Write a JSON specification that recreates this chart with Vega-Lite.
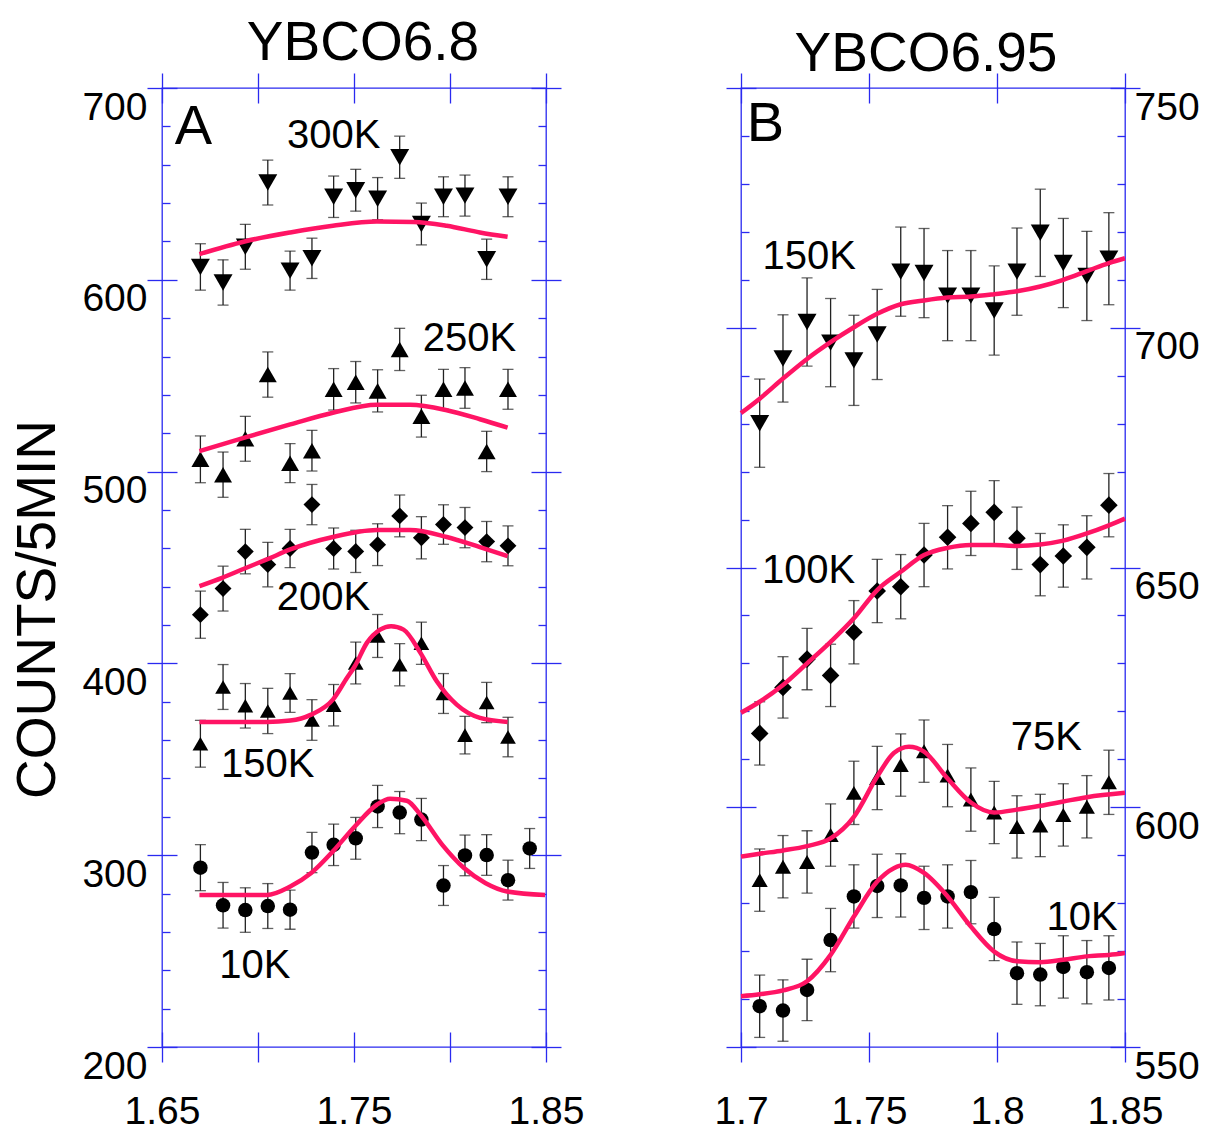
{
  "$schema": "https://vega.github.io/schema/vega-lite/v6.json",
  "padding": {"left": 10, "top": 15, "right": 0, "bottom": 0},
  "spacing": 128,
  "config": {
    "view": {"stroke": "#2a2af0", "strokeWidth": 1.3},
    "axis": {"grid": false, "domain": false, "tickColor": "#2a2af0", "tickWidth": 1.3, "labelFont": "Liberation Sans", "labelFontSize": 39, "labelColor": "black", "labelFlush": false, "labelOverlap": false},
    "text": {"font": "Liberation Sans"}
  },
  "resolve": {"scale": {"shape": "independent", "size": "independent", "x": "independent", "y": "independent"}},
  "datasets": {
    "ptsA": [
      {"s":"300K","x":1.6700,"y":606.7,"e":12.1},{"s":"300K","x":1.6818,"y":598.6,"e":11.8},{"s":"300K","x":1.6934,"y":617.2,"e":11.7},{"s":"300K","x":1.7051,"y":650.7,"e":11.7},{"s":"300K","x":1.7167,"y":604.8,"e":10.2},{"s":"300K","x":1.7281,"y":611.2,"e":10.5},{"s":"300K","x":1.7394,"y":643.3,"e":10.8},{"s":"300K","x":1.7509,"y":646.7,"e":10.9},{"s":"300K","x":1.7623,"y":642.3,"e":11.0},{"s":"300K","x":1.7738,"y":663.9,"e":11.0},{"s":"300K","x":1.7851,"y":629.1,"e":10.9},{"s":"300K","x":1.7966,"y":643.3,"e":10.4},{"s":"300K","x":1.8078,"y":643.9,"e":10.7},{"s":"300K","x":1.8191,"y":610.7,"e":10.5},{"s":"300K","x":1.8302,"y":643.3,"e":10.4},
      {"s":"250K","x":1.6700,"y":506.4,"e":12.2},{"s":"250K","x":1.6818,"y":498.4,"e":11.8},{"s":"250K","x":1.6934,"y":517.1,"e":11.7},{"s":"250K","x":1.7051,"y":550.6,"e":11.8},{"s":"250K","x":1.7167,"y":504.4,"e":10.2},{"s":"250K","x":1.7281,"y":510.9,"e":10.6},{"s":"250K","x":1.7394,"y":542.9,"e":10.8},{"s":"250K","x":1.7509,"y":546.6,"e":10.8},{"s":"250K","x":1.7623,"y":542.1,"e":11.0},{"s":"250K","x":1.7738,"y":563.7,"e":11.0},{"s":"250K","x":1.7851,"y":528.9,"e":10.9},{"s":"250K","x":1.7966,"y":542.9,"e":10.4},{"s":"250K","x":1.8078,"y":543.6,"e":10.6},{"s":"250K","x":1.8191,"y":510.5,"e":10.5},{"s":"250K","x":1.8302,"y":542.9,"e":10.4},
      {"s":"200K","x":1.6700,"y":425.4,"e":12.3},{"s":"200K","x":1.6818,"y":439.0,"e":11.7},{"s":"200K","x":1.6934,"y":458.3,"e":11.6},{"s":"200K","x":1.7051,"y":451.5,"e":11.6},{"s":"200K","x":1.7167,"y":459.9,"e":10.0},{"s":"200K","x":1.7281,"y":482.8,"e":10.5},{"s":"200K","x":1.7394,"y":459.9,"e":10.7},{"s":"200K","x":1.7509,"y":458.4,"e":11.0},{"s":"200K","x":1.7623,"y":461.9,"e":10.9},{"s":"200K","x":1.7738,"y":476.9,"e":10.9},{"s":"200K","x":1.7851,"y":465.5,"e":11.0},{"s":"200K","x":1.7966,"y":472.4,"e":10.3},{"s":"200K","x":1.8078,"y":470.8,"e":10.5},{"s":"200K","x":1.8191,"y":463.5,"e":10.5},{"s":"200K","x":1.8302,"y":461.3,"e":10.4},
      {"s":"150K","x":1.6700,"y":358.1,"e":12.2},{"s":"150K","x":1.6818,"y":387.7,"e":11.7},{"s":"150K","x":1.6934,"y":377.9,"e":11.6},{"s":"150K","x":1.7051,"y":375.2,"e":11.8},{"s":"150K","x":1.7167,"y":384.6,"e":10.1},{"s":"150K","x":1.7281,"y":370.5,"e":10.6},{"s":"150K","x":1.7394,"y":378.2,"e":10.8},{"s":"150K","x":1.7509,"y":400.2,"e":10.9},{"s":"150K","x":1.7623,"y":414.3,"e":11.2},{"s":"150K","x":1.7738,"y":399.3,"e":11.0},{"s":"150K","x":1.7851,"y":410.5,"e":11.0},{"s":"150K","x":1.7966,"y":384.3,"e":10.4},{"s":"150K","x":1.8078,"y":362.6,"e":9.8},{"s":"150K","x":1.8191,"y":379.6,"e":10.5},{"s":"150K","x":1.8302,"y":361.6,"e":10.3},
      {"s":"10K","x":1.6700,"y":293.5,"e":12.0},{"s":"10K","x":1.6818,"y":273.9,"e":11.9},{"s":"10K","x":1.6934,"y":271.4,"e":11.6},{"s":"10K","x":1.7051,"y":273.5,"e":11.7},{"s":"10K","x":1.7167,"y":271.6,"e":10.2},{"s":"10K","x":1.7281,"y":301.4,"e":10.5},{"s":"10K","x":1.7394,"y":305.4,"e":10.8},{"s":"10K","x":1.7509,"y":308.8,"e":10.9},{"s":"10K","x":1.7623,"y":325.4,"e":11.0},{"s":"10K","x":1.7738,"y":322.2,"e":11.0},{"s":"10K","x":1.7851,"y":318.6,"e":11.0},{"s":"10K","x":1.7966,"y":284.2,"e":10.4},{"s":"10K","x":1.8078,"y":299.9,"e":10.6},{"s":"10K","x":1.8191,"y":300.1,"e":10.6},{"s":"10K","x":1.8302,"y":287.0,"e":10.4},{"s":"10K","x":1.8415,"y":303.5,"e":10.4}
    ],
    "fitA": [
      {"s":"300K","x":1.6695,"y":613.4},{"s":"300K","x":1.6930,"y":620.0},{"s":"300K","x":1.7168,"y":624.7},{"s":"300K","x":1.7390,"y":628.2},{"s":"300K","x":1.7619,"y":630.4},{"s":"300K","x":1.7810,"y":630.2},{"s":"300K","x":1.7983,"y":628.2},{"s":"300K","x":1.8156,"y":624.7},{"s":"300K","x":1.8300,"y":622.4},
      {"s":"250K","x":1.6695,"y":510.7},{"s":"250K","x":1.6930,"y":517.7},{"s":"250K","x":1.7168,"y":524.6},{"s":"250K","x":1.7390,"y":530.7},{"s":"250K","x":1.7619,"y":534.8},{"s":"250K","x":1.7792,"y":534.8},{"s":"250K","x":1.7983,"y":532.0},{"s":"250K","x":1.8156,"y":527.3},{"s":"250K","x":1.8300,"y":522.9},
      {"s":"200K","x":1.6695,"y":440.3},{"s":"200K","x":1.6813,"y":444.6},{"s":"200K","x":1.6930,"y":449.5},{"s":"200K","x":1.7046,"y":454.2},{"s":"200K","x":1.7168,"y":459.4},{"s":"200K","x":1.7390,"y":465.9},{"s":"200K","x":1.7619,"y":469.5},{"s":"200K","x":1.7792,"y":469.5},{"s":"200K","x":1.7983,"y":465.9},{"s":"200K","x":1.8156,"y":460.6},{"s":"200K","x":1.8300,"y":455.9},
      {"s":"150K","x":1.6695,"y":369.5},{"s":"150K","x":1.7046,"y":369.5},{"s":"150K","x":1.7168,"y":370.2},{"s":"150K","x":1.7277,"y":373.3},{"s":"150K","x":1.7390,"y":381.1},{"s":"150K","x":1.7463,"y":392.4},{"s":"150K","x":1.7504,"y":398.5},{"s":"150K","x":1.7567,"y":410.7},{"s":"150K","x":1.7636,"y":417.6},{"s":"150K","x":1.7693,"y":419.4},{"s":"150K","x":1.7758,"y":417.6},{"s":"150K","x":1.7846,"y":405.5},{"s":"150K","x":1.7931,"y":390.7},{"s":"150K","x":1.8035,"y":378.5},{"s":"150K","x":1.8156,"y":371.6},{"s":"150K","x":1.8300,"y":369.5},
      {"s":"10K","x":1.6695,"y":279.3},{"s":"10K","x":1.7046,"y":279.3},{"s":"10K","x":1.7168,"y":283.7},{"s":"10K","x":1.7277,"y":290.7},{"s":"10K","x":1.7390,"y":302.0},{"s":"10K","x":1.7504,"y":315.0},{"s":"10K","x":1.7619,"y":326.3},{"s":"10K","x":1.7688,"y":329.4},{"s":"10K","x":1.7775,"y":328.4},{"s":"10K","x":1.7846,"y":321.1},{"s":"10K","x":1.7960,"y":305.4},{"s":"10K","x":1.8073,"y":293.3},{"s":"10K","x":1.8186,"y":285.4},{"s":"10K","x":1.8297,"y":281.1},{"s":"10K","x":1.8495,"y":279.3}
    ],
    "labA": [
      {"t":"300K","x":1.7394,"y":674.8},{"t":"250K","x":1.8101,"y":569.0},{"t":"200K","x":1.7341,"y":434.2},{"t":"150K","x":1.7051,"y":346.8},{"t":"10K","x":1.6984,"y":242.1}
    ],
    "letA": [{"t":"A","x":1.6664,"y":679.5}],
    "ptsB": [
      {"s":"150K","x":1.7073,"y":680.1,"e":9.2},{"s":"150K","x":1.7164,"y":693.6,"e":9.1},{"s":"150K","x":1.7258,"y":701.2,"e":9.2},{"s":"150K","x":1.7350,"y":696.9,"e":9.2},{"s":"150K","x":1.7441,"y":693.2,"e":9.4},{"s":"150K","x":1.7532,"y":698.6,"e":9.4},{"s":"150K","x":1.7624,"y":711.7,"e":9.3},{"s":"150K","x":1.7715,"y":711.4,"e":9.3},{"s":"150K","x":1.7807,"y":706.7,"e":9.4},{"s":"150K","x":1.7898,"y":706.7,"e":9.4},{"s":"150K","x":1.7989,"y":703.6,"e":9.3},{"s":"150K","x":1.8078,"y":711.7,"e":9.1},{"s":"150K","x":1.8169,"y":719.8,"e":9.1},{"s":"150K","x":1.8259,"y":713.5,"e":9.3},{"s":"150K","x":1.8351,"y":710.8,"e":9.3},{"s":"150K","x":1.8437,"y":714.4,"e":9.6},
      {"s":"100K","x":1.7073,"y":615.4,"e":6.6},{"s":"100K","x":1.7164,"y":625.0,"e":6.4},{"s":"100K","x":1.7258,"y":630.9,"e":6.4},{"s":"100K","x":1.7350,"y":627.5,"e":6.5},{"s":"100K","x":1.7441,"y":636.5,"e":6.6},{"s":"100K","x":1.7532,"y":645.1,"e":6.6},{"s":"100K","x":1.7624,"y":646.0,"e":6.7},{"s":"100K","x":1.7715,"y":652.6,"e":6.6},{"s":"100K","x":1.7807,"y":656.3,"e":6.6},{"s":"100K","x":1.7898,"y":659.2,"e":6.7},{"s":"100K","x":1.7989,"y":661.5,"e":6.6},{"s":"100K","x":1.8078,"y":656.1,"e":6.5},{"s":"100K","x":1.8169,"y":650.6,"e":6.5},{"s":"100K","x":1.8259,"y":652.4,"e":6.5},{"s":"100K","x":1.8351,"y":654.2,"e":6.6},{"s":"100K","x":1.8437,"y":663.0,"e":6.6},
      {"s":"75K","x":1.7073,"y":584.8,"e":6.5},{"s":"75K","x":1.7164,"y":587.6,"e":6.5},{"s":"75K","x":1.7258,"y":588.6,"e":6.5},{"s":"75K","x":1.7350,"y":594.2,"e":6.5},{"s":"75K","x":1.7441,"y":603.0,"e":6.6},{"s":"75K","x":1.7532,"y":606.1,"e":6.6},{"s":"75K","x":1.7624,"y":608.8,"e":6.5},{"s":"75K","x":1.7715,"y":611.7,"e":6.5},{"s":"75K","x":1.7807,"y":606.6,"e":6.5},{"s":"75K","x":1.7898,"y":601.6,"e":6.6},{"s":"75K","x":1.7989,"y":598.9,"e":6.5},{"s":"75K","x":1.8078,"y":595.9,"e":6.5},{"s":"75K","x":1.8169,"y":596.2,"e":6.5},{"s":"75K","x":1.8259,"y":598.4,"e":6.5},{"s":"75K","x":1.8351,"y":600.1,"e":6.5},{"s":"75K","x":1.8437,"y":605.2,"e":6.7},
      {"s":"10K","x":1.7073,"y":558.5,"e":6.5},{"s":"10K","x":1.7164,"y":557.6,"e":6.4},{"s":"10K","x":1.7258,"y":561.9,"e":6.4},{"s":"10K","x":1.7350,"y":572.3,"e":6.6},{"s":"10K","x":1.7441,"y":581.4,"e":6.6},{"s":"10K","x":1.7532,"y":583.6,"e":6.6},{"s":"10K","x":1.7624,"y":583.7,"e":6.6},{"s":"10K","x":1.7715,"y":581.1,"e":6.6},{"s":"10K","x":1.7807,"y":581.4,"e":6.6},{"s":"10K","x":1.7898,"y":582.3,"e":6.6},{"s":"10K","x":1.7989,"y":574.6,"e":6.6},{"s":"10K","x":1.8078,"y":565.4,"e":6.5},{"s":"10K","x":1.8169,"y":565.1,"e":6.5},{"s":"10K","x":1.8259,"y":566.7,"e":6.5},{"s":"10K","x":1.8351,"y":565.6,"e":6.6},{"s":"10K","x":1.8437,"y":566.5,"e":6.7}
    ],
    "fitB": [
      {"s":"150K","x":1.7000,"y":682.2},{"s":"150K","x":1.7073,"y":685.2},{"s":"150K","x":1.7164,"y":689.4},{"s":"150K","x":1.7258,"y":693.5},{"s":"150K","x":1.7350,"y":697.0},{"s":"150K","x":1.7441,"y":700.1},{"s":"150K","x":1.7532,"y":702.9},{"s":"150K","x":1.7624,"y":704.9},{"s":"150K","x":1.7715,"y":705.7},{"s":"150K","x":1.7807,"y":706.3},{"s":"150K","x":1.7898,"y":706.5},{"s":"150K","x":1.7989,"y":707.0},{"s":"150K","x":1.8078,"y":707.6},{"s":"150K","x":1.8169,"y":708.6},{"s":"150K","x":1.8259,"y":710.0},{"s":"150K","x":1.8351,"y":711.8},{"s":"150K","x":1.8437,"y":713.5},{"s":"150K","x":1.8500,"y":714.5},
      {"s":"100K","x":1.7000,"y":619.7},{"s":"100K","x":1.7073,"y":622.0},{"s":"100K","x":1.7164,"y":625.5},{"s":"100K","x":1.7258,"y":630.0},{"s":"100K","x":1.7350,"y":634.5},{"s":"100K","x":1.7441,"y":639.4},{"s":"100K","x":1.7532,"y":645.3},{"s":"100K","x":1.7624,"y":649.1},{"s":"100K","x":1.7715,"y":652.6},{"s":"100K","x":1.7807,"y":654.1},{"s":"100K","x":1.7898,"y":654.7},{"s":"100K","x":1.7989,"y":654.7},{"s":"100K","x":1.8078,"y":654.5},{"s":"100K","x":1.8169,"y":654.8},{"s":"100K","x":1.8259,"y":655.6},{"s":"100K","x":1.8351,"y":657.1},{"s":"100K","x":1.8437,"y":658.8},{"s":"100K","x":1.8500,"y":660.2},
      {"s":"75K","x":1.7000,"y":589.7},{"s":"75K","x":1.7073,"y":590.3},{"s":"75K","x":1.7164,"y":591.0},{"s":"75K","x":1.7258,"y":591.9},{"s":"75K","x":1.7350,"y":593.5},{"s":"75K","x":1.7441,"y":598.0},{"s":"75K","x":1.7532,"y":606.4},{"s":"75K","x":1.7597,"y":611.3},{"s":"75K","x":1.7656,"y":612.6},{"s":"75K","x":1.7715,"y":611.6},{"s":"75K","x":1.7807,"y":606.0},{"s":"75K","x":1.7898,"y":601.0},{"s":"75K","x":1.7989,"y":598.9},{"s":"75K","x":1.8078,"y":599.5},{"s":"75K","x":1.8169,"y":600.3},{"s":"75K","x":1.8259,"y":601.2},{"s":"75K","x":1.8351,"y":602.1},{"s":"75K","x":1.8500,"y":603.0},
      {"s":"10K","x":1.7000,"y":560.6},{"s":"10K","x":1.7073,"y":561.0},{"s":"10K","x":1.7164,"y":561.8},{"s":"10K","x":1.7258,"y":563.7},{"s":"10K","x":1.7350,"y":569.2},{"s":"10K","x":1.7441,"y":577.2},{"s":"10K","x":1.7532,"y":584.5},{"s":"10K","x":1.7597,"y":587.3},{"s":"10K","x":1.7643,"y":588.0},{"s":"10K","x":1.7715,"y":586.3},{"s":"10K","x":1.7807,"y":581.4},{"s":"10K","x":1.7898,"y":575.1},{"s":"10K","x":1.7989,"y":569.9},{"s":"10K","x":1.8078,"y":567.9},{"s":"10K","x":1.8169,"y":567.7},{"s":"10K","x":1.8259,"y":568.2},{"s":"10K","x":1.8351,"y":568.9},{"s":"10K","x":1.8437,"y":569.2},{"s":"10K","x":1.8500,"y":569.6}
    ],
    "labB": [
      {"t":"150K","x":1.7266,"y":714.7},{"t":"100K","x":1.7264,"y":649.3},{"t":"75K","x":1.8193,"y":614.5},{"t":"10K","x":1.8332,"y":576.8}
    ],
    "letB": [{"t":"B","x":1.7095,"y":742.5}]
  },
  "hconcat": [
    {
      "width": 384,
      "height": 959,
      "title": {"text": "YBCO6.8", "font": "Liberation Sans", "fontSize": 55, "fontWeight": "normal", "frame": "group", "anchor": "middle", "dx": 9, "baseline": "alphabetic", "offset": -43, "color": "black"},
      "resolve": {"axis": {"x": "independent", "y": "independent"}},
      "layer": [
        {
          "data": {"name": "ptsA"},
          "mark": {"type": "errorbar", "ticks": {"size": 11}, "color": "#222", "thickness": 1.3},
          "encoding": {
            "x": {"field": "x", "type": "quantitative", "scale": {"domain": [1.65, 1.85], "nice": false, "zero": false}, "axis": null},
            "y": {"field": "y", "type": "quantitative", "scale": {"domain": [200, 700], "nice": false, "zero": false}, "axis": null},
            "yError": {"field": "e"}
          }
        },
        {
          "data": {"name": "ptsA"},
          "mark": {"type": "point", "filled": true, "color": "black", "opacity": 1},
          "encoding": {
            "x": {"field": "x", "type": "quantitative", "scale": {"domain": [1.65, 1.85], "nice": false, "zero": false},
              "axis": {"orient": "bottom", "values": [1.65, 1.7, 1.75, 1.8, 1.85], "offset": -15, "tickSize": 30, "format": ".2f", "labelExpr": "round(datum.value*100) % 10 == 5 ? datum.label : ''", "labelPadding": 30, "labelBaseline": "top", "title": null}},
            "y": {"field": "y", "type": "quantitative", "scale": {"domain": [200, 700], "nice": false, "zero": false},
              "axis": {"orient": "left", "values": [200, 300, 400, 500, 600, 700], "offset": -15, "tickSize": 30, "labelPadding": 0, "labelBaseline": "top", "title": "COUNTS/5MIN", "titleFont": "Liberation Sans", "titleFontSize": 55, "titleFontWeight": "normal", "titleColor": "black", "titleBaseline": "alphabetic", "titlePadding": 27, "titleY": 521}},
            "shape": {"field": "s", "type": "nominal", "scale": {"domain": ["10K", "150K", "200K", "250K", "300K"], "range": ["circle", "triangle-up", "diamond", "triangle-up", "triangle-down"]}, "legend": null},
            "size": {"field": "s", "type": "nominal", "scale": {"domain": ["10K", "150K", "200K", "250K", "300K"], "range": [210, 360, 230, 360, 360]}, "legend": null}
          }
        },
        {
          "data": {"name": "fitA"},
          "mark": {"type": "line", "color": "#ff1464", "strokeWidth": 4.5, "interpolate": "monotone"},
          "encoding": {
            "x": {"field": "x", "type": "quantitative", "scale": {"domain": [1.65, 1.85], "nice": false, "zero": false},
              "axis": {"orient": "top", "values": [1.65, 1.7, 1.75, 1.8, 1.85], "offset": -15, "tickSize": 30, "labels": false, "title": null}},
            "y": {"field": "y", "type": "quantitative", "scale": {"domain": [200, 700], "nice": false, "zero": false},
              "axis": {"orient": "right", "values": [200, 300, 400, 500, 600, 700], "offset": -15, "tickSize": 30, "labels": false, "title": null}},
            "detail": {"field": "s", "type": "nominal"}
          }
        },
        {
          "data": {"name": "labA"},
          "mark": {"type": "text", "fontSize": 40, "align": "center", "baseline": "middle", "color": "black"},
          "encoding": {
            "x": {"field": "x", "type": "quantitative", "scale": {"domain": [1.65, 1.85], "nice": false, "zero": false}, "axis": null},
            "y": {"field": "y", "type": "quantitative", "scale": {"domain": [200, 700], "nice": false, "zero": false},
              "axis": {"orient": "left", "values": [220, 240, 260, 280, 320, 340, 360, 380, 420, 440, 460, 480, 520, 540, 560, 580, 620, 640, 660, 680], "tickSize": -8, "labels": false, "title": null}},
            "text": {"field": "t"}
          }
        },
        {
          "data": {"name": "letA"},
          "mark": {"type": "text", "fontSize": 56, "align": "center", "baseline": "middle", "color": "black"},
          "encoding": {
            "x": {"field": "x", "type": "quantitative", "scale": {"domain": [1.65, 1.85], "nice": false, "zero": false}, "axis": null},
            "y": {"field": "y", "type": "quantitative", "scale": {"domain": [200, 700], "nice": false, "zero": false},
              "axis": {"orient": "right", "values": [220, 240, 260, 280, 320, 340, 360, 380, 420, 440, 460, 480, 520, 540, 560, 580, 620, 640, 660, 680], "tickSize": -8, "labels": false, "title": null}},
            "text": {"field": "t"}
          }
        }
      ]
    },
    {
      "width": 384,
      "height": 959,
      "title": {"text": "YBCO6.95", "font": "Liberation Sans", "fontSize": 55, "fontWeight": "normal", "frame": "group", "anchor": "middle", "dx": -7, "baseline": "alphabetic", "offset": -54, "color": "black"},
      "resolve": {"axis": {"x": "independent", "y": "independent"}},
      "layer": [
        {
          "data": {"name": "ptsB"},
          "mark": {"type": "errorbar", "ticks": {"size": 11}, "color": "#222", "thickness": 1.3},
          "encoding": {
            "x": {"field": "x", "type": "quantitative", "scale": {"domain": [1.7, 1.85], "nice": false, "zero": false}, "axis": null},
            "y": {"field": "y", "type": "quantitative", "scale": {"domain": [550, 750], "nice": false, "zero": false}, "axis": null},
            "yError": {"field": "e"}
          }
        },
        {
          "data": {"name": "ptsB"},
          "mark": {"type": "point", "filled": true, "color": "black", "opacity": 1},
          "encoding": {
            "x": {"field": "x", "type": "quantitative", "scale": {"domain": [1.7, 1.85], "nice": false, "zero": false},
              "axis": {"orient": "bottom", "values": [1.7, 1.75, 1.8, 1.85], "offset": -15, "tickSize": 30, "format": ".2~f", "labelPadding": 30, "labelBaseline": "top", "title": null}},
            "y": {"field": "y", "type": "quantitative", "scale": {"domain": [550, 750], "nice": false, "zero": false},
              "axis": {"orient": "right", "values": [550, 600, 650, 700, 750], "offset": -15, "tickSize": 30, "labelPadding": -6, "labelBaseline": "top", "labelAlign": "left", "title": null}},
            "shape": {"field": "s", "type": "nominal", "scale": {"domain": ["10K", "75K", "100K", "150K"], "range": ["circle", "triangle-up", "diamond", "triangle-down"]}, "legend": null},
            "size": {"field": "s", "type": "nominal", "scale": {"domain": ["10K", "75K", "100K", "150K"], "range": [210, 360, 230, 360]}, "legend": null}
          }
        },
        {
          "data": {"name": "fitB"},
          "mark": {"type": "line", "color": "#ff1464", "strokeWidth": 4.5, "interpolate": "monotone"},
          "encoding": {
            "x": {"field": "x", "type": "quantitative", "scale": {"domain": [1.7, 1.85], "nice": false, "zero": false},
              "axis": {"orient": "top", "values": [1.7, 1.75, 1.8, 1.85], "offset": -15, "tickSize": 30, "labels": false, "title": null}},
            "y": {"field": "y", "type": "quantitative", "scale": {"domain": [550, 750], "nice": false, "zero": false},
              "axis": {"orient": "left", "values": [550, 600, 650, 700, 750], "offset": -15, "tickSize": 30, "labels": false, "title": null}},
            "detail": {"field": "s", "type": "nominal"}
          }
        },
        {
          "data": {"name": "labB"},
          "mark": {"type": "text", "fontSize": 40, "align": "center", "baseline": "middle", "color": "black"},
          "encoding": {
            "x": {"field": "x", "type": "quantitative", "scale": {"domain": [1.7, 1.85], "nice": false, "zero": false}, "axis": null},
            "y": {"field": "y", "type": "quantitative", "scale": {"domain": [550, 750], "nice": false, "zero": false},
              "axis": {"orient": "left", "values": [560, 570, 580, 590, 610, 620, 630, 640, 660, 670, 680, 690, 710, 720, 730, 740], "tickSize": -8, "labels": false, "title": null}},
            "text": {"field": "t"}
          }
        },
        {
          "data": {"name": "letB"},
          "mark": {"type": "text", "fontSize": 56, "align": "center", "baseline": "middle", "color": "black"},
          "encoding": {
            "x": {"field": "x", "type": "quantitative", "scale": {"domain": [1.7, 1.85], "nice": false, "zero": false}, "axis": null},
            "y": {"field": "y", "type": "quantitative", "scale": {"domain": [550, 750], "nice": false, "zero": false},
              "axis": {"orient": "right", "values": [560, 570, 580, 590, 610, 620, 630, 640, 660, 670, 680, 690, 710, 720, 730, 740], "tickSize": -8, "labels": false, "title": null}},
            "text": {"field": "t"}
          }
        }
      ]
    }
  ]
}
